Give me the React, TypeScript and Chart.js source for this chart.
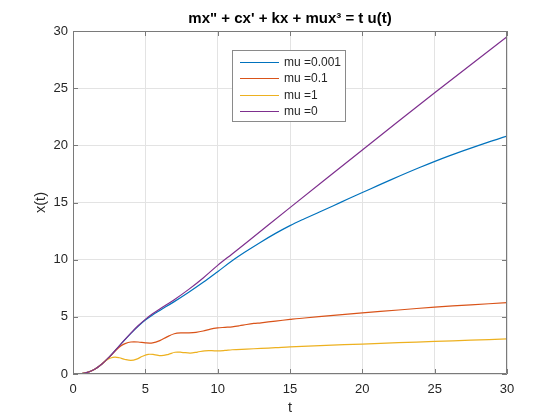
import React, { useEffect, useRef } from "react";
import { Chart, registerables } from "chart.js";
Chart.register(...registerables);

// ---- data ----
const xTickValues = [0, 5, 10, 15, 20, 25, 30];
const yTickValues = [0, 5, 10, 15, 20, 25, 30];

const seriesLabels = ["mu =0.001", "mu =0.1", "mu =1", "mu =0"];
const seriesColors = ["#0072BD", "#D95319", "#EDB120", "#7E2F8E"];

// mu = 0.001
const tMu0001 = [0, 0.5, 1, 1.5, 2, 2.5, 3, 3.5, 4, 4.5, 5, 5.5, 6, 7, 8, 9, 10, 11, 12, 13, 14, 15, 16, 17, 18, 19, 20, 22, 24, 26, 28, 30];
const xMu0001 = [0, 0.02, 0.14, 0.42, 0.88, 1.48, 2.17, 2.88, 3.56, 4.18, 4.72, 5.17, 5.56, 6.33, 7.15, 8.02, 8.95, 9.9, 10.75, 11.55, 12.3, 12.98, 13.58, 14.15, 14.72, 15.3, 15.87, 17.0, 18.08, 19.08, 19.98, 20.8];

// mu = 0.1
const tMu01 = [0, 0.5, 1, 1.5, 2, 2.5, 3, 3.3, 3.6, 4, 4.5, 5, 5.5, 6, 6.5, 7, 7.5, 8, 8.5, 9, 9.5, 10, 10.5, 11, 11.5, 12, 12.5, 13, 14, 15, 16, 18, 20, 22.5, 25, 27.5, 30];
const xMu01 = [0, 0.02, 0.14, 0.42, 0.88, 1.47, 2.12, 2.45, 2.66, 2.8, 2.8, 2.72, 2.72, 2.92, 3.25, 3.52, 3.6, 3.6, 3.64, 3.76, 3.93, 4.03, 4.08, 4.13, 4.22, 4.33, 4.42, 4.48, 4.63, 4.77, 4.9, 5.12, 5.35, 5.6, 5.85, 6.05, 6.24];

// mu = 1
const tMu1 = [0, 0.5, 1, 1.5, 2, 2.3, 2.6, 2.9, 3.2, 3.6, 4, 4.4, 4.8, 5.2, 5.6, 6.1, 6.6, 7.05, 7.5, 8.1, 8.6, 9.1, 9.6, 10, 10.5, 11, 12, 13, 14, 15, 17.5, 20, 22.5, 25, 27.5, 30];
const xMu1 = [0, 0.02, 0.14, 0.42, 0.88, 1.2, 1.4, 1.48, 1.42, 1.27, 1.19, 1.3, 1.55, 1.72, 1.7, 1.6, 1.72, 1.9, 1.9, 1.83, 1.92, 2.03, 2.04, 2.02, 2.06, 2.12, 2.18, 2.24, 2.3, 2.37, 2.5, 2.62, 2.74, 2.85, 2.96, 3.07];

// mu = 0
const tMu0 = [0, 0.5, 1, 1.5, 2, 2.5, 3, 3.5, 4, 4.5, 5, 5.5, 6, 7, 8, 9, 10, 11, 12, 15, 20, 25, 30];
const xMu0 = [0, 0.02, 0.14, 0.42, 0.88, 1.48, 2.17, 2.89, 3.58, 4.22, 4.78, 5.26, 5.69, 6.5, 7.4, 8.4, 9.5, 10.5, 11.5, 14.55, 19.6, 24.6, 29.5];

const tSeries = [tMu0001, tMu01, tMu1, tMu0];
const xSeries = [xMu0001, xMu01, xMu1, xMu0];

const FONT = "'Liberation Sans', Arial, Helvetica, sans-serif";
const TEXT = "#262626";

const framePlugin = {
  id: "matlabFrame",
  afterDatasetsDraw(chart: any) {
    const { ctx, chartArea, scales } = chart;
    const { left, right, top, bottom } = chartArea;
    ctx.save();
    ctx.strokeStyle = "#7a7a7a";
    ctx.lineWidth = 1;
    ctx.beginPath();
    ctx.rect(left + 0.5, top + 0.5, right - left - 1, bottom - top - 1);
    ctx.stroke();
    ctx.beginPath();
    const tl = 5;
    xTickValues.forEach((v) => {
      const px = Math.round(scales.x.getPixelForValue(v)) + 0.5;
      ctx.moveTo(px, bottom);
      ctx.lineTo(px, bottom - tl);
      ctx.moveTo(px, top);
      ctx.lineTo(px, top + tl);
    });
    yTickValues.forEach((v) => {
      const py = Math.round(scales.y.getPixelForValue(v)) + 0.5;
      ctx.moveTo(left, py);
      ctx.lineTo(left + tl, py);
      ctx.moveTo(right, py);
      ctx.lineTo(right - tl, py);
    });
    ctx.stroke();
    ctx.restore();
  },
};

const legendPlugin = {
  id: "matlabLegend",
  afterDraw(chart: any) {
    const { ctx, chartArea } = chart;
    const bx = chartArea.left + 159;
    const by = chartArea.top + 19;
    const bw = 114;
    const bh = 72;
    ctx.save();
    ctx.fillStyle = "#ffffff";
    ctx.fillRect(bx, by, bw, bh);
    ctx.strokeStyle = "#8a8a8a";
    ctx.lineWidth = 1;
    ctx.strokeRect(bx + 0.5, by + 0.5, bw - 1, bh - 1);
    ctx.font = `12px ${FONT}`;
    ctx.textBaseline = "middle";
    ctx.textAlign = "left";
    chart.data.datasets.forEach((ds: any, i: number) => {
      const yy = Math.round(by + 12 + i * 16.4) + 0.5;
      ctx.strokeStyle = ds.borderColor;
      ctx.lineWidth = 1.2;
      ctx.beginPath();
      ctx.moveTo(bx + 8, yy);
      ctx.lineTo(bx + 47, yy);
      ctx.stroke();
      ctx.fillStyle = TEXT;
      ctx.fillText(ds.label, bx + 52, yy);
    });
    ctx.restore();
  },
};

export default function App() {
  const canvasRef = useRef<HTMLCanvasElement | null>(null);

  useEffect(() => {
    if (!canvasRef.current) return;
    const datasets = seriesLabels.map((label, i) => ({
      label,
      data: tSeries[i].map((t, j) => ({ x: t, y: xSeries[i][j] })),
      borderColor: seriesColors[i],
      backgroundColor: seriesColors[i],
      borderWidth: 1.2,
      pointRadius: 0,
      tension: 0.35,
      fill: false,
      order: seriesLabels.length - i,
    }));
    const chart = new Chart(canvasRef.current, {
      type: "line",
      data: { datasets },
      plugins: [framePlugin, legendPlugin],
      options: {
        animation: false,
        responsive: true,
        maintainAspectRatio: false,
        layout: { padding: { left: 0, right: 53, top: 0, bottom: 0 } },
        plugins: {
          legend: { display: false },
          tooltip: { enabled: false },
          title: {
            display: true,
            fullSize: false,
            text: "mx\" + cx' + kx + mux\u00B3 = t u(t)",
            color: "#000000",
            font: { family: FONT, size: 15, weight: "bold" },
            padding: { top: 10, bottom: 3 },
          },
        },
        scales: {
          x: {
            type: "linear",
            min: 0,
            max: 30,
            afterFit: (s: any) => {
              s.height = 46;
            },
            afterBuildTicks: (s: any) => {
              s.ticks = xTickValues.map((v) => ({ value: v }));
            },
            ticks: {
              color: TEXT,
              font: { family: FONT, size: 13 },
              padding: 8,
              maxRotation: 0,
            },
            grid: { color: "#e3e3e3", lineWidth: 1, drawTicks: false },
            border: { display: false },
            title: {
              display: true,
              text: "t",
              color: TEXT,
              font: { family: FONT, size: 14.5 },
              padding: { top: 0, bottom: 3 },
            },
          },
          y: {
            type: "linear",
            min: 0,
            max: 30,
            afterFit: (s: any) => {
              s.width = 73;
            },
            afterBuildTicks: (s: any) => {
              s.ticks = yTickValues.map((v) => ({ value: v }));
            },
            ticks: {
              color: TEXT,
              font: { family: FONT, size: 13 },
              padding: 5,
            },
            grid: { color: "#e3e3e3", lineWidth: 1, drawTicks: false },
            border: { display: false },
            title: {
              display: true,
              text: "x(t)",
              color: TEXT,
              font: { family: FONT, size: 14.5 },
              padding: { top: 32, bottom: 0 },
            },
          },
        },
      },
    });
    return () => chart.destroy();
  }, []);

  return (
    <div style={{ position: "fixed", left: 0, top: 0, width: 560, height: 420, background: "#ffffff" }}>
      <canvas ref={canvasRef} />
    </div>
  );
}
